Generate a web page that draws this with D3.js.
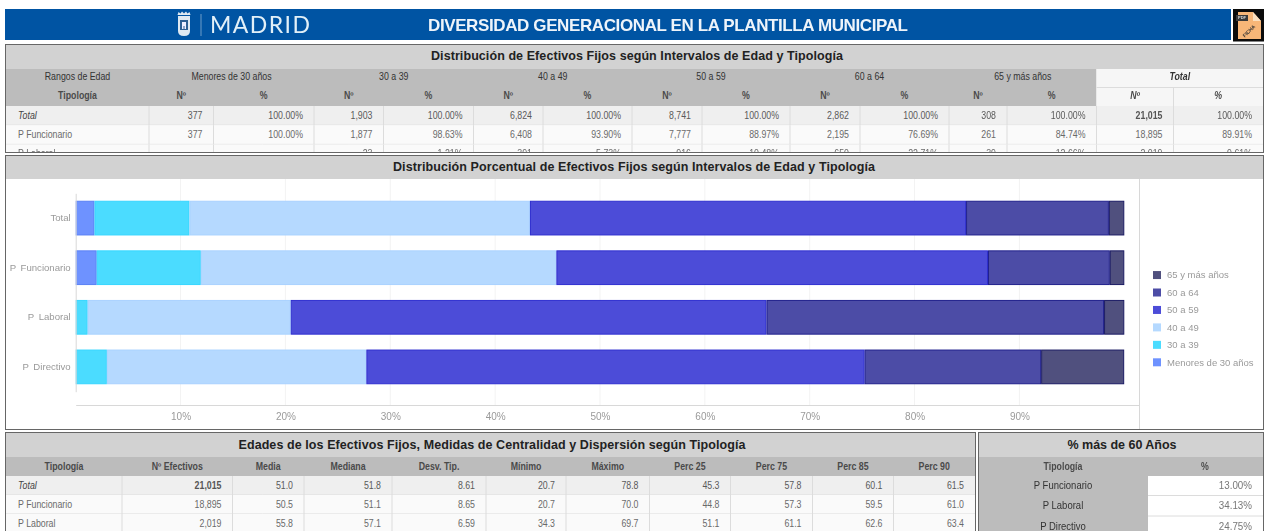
<!DOCTYPE html>
<html>
<head>
<meta charset="utf-8">
<script src="https://d3js.org/d3.v7.min.js"></script>
<style>
  html, body { margin: 0; padding: 0; background: #fff; overflow: hidden; }
  svg { display: block; filter: blur(0.5px); font-family: "Liberation Sans", Arial, sans-serif; }
</style>
</head>
<body>
<svg id="chart" width="1266" height="531"></svg>
<script>
// chart data
const tipologias = ["Total", "P Funcionario", "P Laboral", "P Directivo"];
const seriesNames = ["Menores de 30 años", "30 a 39", "40 a 49", "50 a 59", "60 a 64", "65 y más años"];
const seriesColors = ["#6e92ff", "#4bdcff", "#b5d9ff", "#4c4cd8", "#4c4ca6", "#50507e"];
const seriesStrokes = ["#5a80f5", "#36d6ff", "#a9d2ff", "#2f2fd0", "#20208c", "#1c1c64"];
const pctMenores = [1.79, 2.00, 0, 0];
const pct30 = [9.06, 9.93, 1.14, 2.97];
const pct40 = [32.47, 33.91, 19.37, 24.75];
const pct50 = [41.59, 41.16, 45.37, 47.52];
const pct60 = [13.62, 11.62, 32.19, 16.83];
const pct65 = [1.47, 1.38, 1.93, 7.92];
const xTicks = [10, 20, 30, 40, 50, 60, 70, 80, 90];

// top table
const rangosHeader = ["Rangos de Edad", "Menores de 30 años", "30 a 39", "40 a 49", "50 a 59", "60 a 64", "65 y más años", "Total"];
const dist1Total = ["Total", "377", "100.00%", "1,903", "100.00%", "6,824", "100.00%", "8,741", "100.00%", "2,862", "100.00%", "308", "100.00%", "21,015", "100.00%"];
const dist1Func = ["P Funcionario", "377", "100.00%", "1,877", "98.63%", "6,408", "93.90%", "7,777", "88.97%", "2,195", "76.69%", "261", "84.74%", "18,895", "89.91%"];
const dist1Lab = ["P Laboral", "", "", "23", "1.21%", "391", "5.73%", "916", "10.48%", "650", "22.71%", "39", "12.66%", "2,019", "9.61%"];

// age stats table
const statsHeader = ["Tipología", "Nº Efectivos", "Media", "Mediana", "Desv. Tip.", "Mínimo", "Máximo", "Perc 25", "Perc 75", "Perc 85", "Perc 90"];
const statsTotal = ["Total", "21,015", "51.0", "51.8", "8.61", "20.7", "78.8", "45.3", "57.8", "60.1", "61.5"];
const statsFunc = ["P Funcionario", "18,895", "50.5", "51.1", "8.65", "20.7", "70.0", "44.8", "57.3", "59.5", "61.0"];
const statsLab = ["P Laboral", "2,019", "55.8", "57.1", "6.59", "34.3", "69.7", "51.1", "61.1", "62.6", "63.4"];

// % over 60
const mas60Labels = ["P Funcionario", "P Laboral", "P Directivo"];
const mas60Values = ["13.00%", "34.13%", "24.75%"];

const svg = d3.select("#chart");

const HEAD = "#bcbcbc", BAND = "#d2d2d2", TXT = "#6a6a6a", HTXT = "#4a4a4a", LINE = "#dcdcdc";

// narrow text, the original screenshot is squeezed horizontally
function label(g, x, y, str, opts = {}) {
    const sx = opts.sx ?? 0.88;
    return g.append("text")
        .attr("transform", `translate(${x},${y}) scale(${sx},1)`)
        .attr("dy", "0.35em")
        .attr("text-anchor", opts.anchor || "start")
        .attr("font-size", opts.size || 10)
        .attr("font-weight", opts.weight || "normal")
        .attr("font-style", opts.italic ? "italic" : "normal")
        .attr("fill", opts.fill || TXT)
        .text(str);
}

function panel(x0, y0, x1, y1, titleY1, title, titleX, titleLen, titleY) {
    const id = "clip" + x0 + y0;
    svg.append("clipPath").attr("id", id).append("rect")
        .attr("x", x0).attr("y", y0).attr("width", x1 - x0).attr("height", y1 - y0);
    svg.append("rect").attr("x", x0 - 0.5).attr("y", y0 - 0.5)
        .attr("width", x1 - x0 + 1).attr("height", y1 - y0 + 1)
        .attr("fill", "#fff").attr("stroke", "#666");
    const g = svg.append("g").attr("clip-path", `url(#${id})`);
    g.append("rect").attr("x", x0).attr("y", y0).attr("width", x1 - x0).attr("height", titleY1 - y0).attr("fill", BAND);
    g.append("text")
        .attr("x", titleX).attr("y", titleY)
        .attr("dy", "0.35em").attr("text-anchor", "middle")
        .attr("font-size", 12.5).attr("font-weight", "bold").attr("fill", "#222")
        .attr("textLength", titleLen).attr("lengthAdjust", "spacing")
        .text(title);
    return g;
}

function rows(g, edges, yTop, rowH, data, totalFirst) {
    data.forEach((row, i) => {
        const y = yTop + i * rowH;
        const yc = y + rowH / 2 - 0.5;
        const isTotal = totalFirst && i === 0;
        g.append("rect").attr("x", edges[0]).attr("y", y)
            .attr("width", edges[edges.length - 1] - edges[0]).attr("height", rowH)
            .attr("fill", isTotal ? "#efefef" : "#fafafa");
        g.append("line").attr("x1", edges[0]).attr("x2", edges[edges.length - 1])
            .attr("y1", y + rowH).attr("y2", y + rowH).attr("stroke", LINE);
        row.forEach((v, c) => {
            if (c > 0) g.append("line").attr("x1", edges[c]).attr("x2", edges[c])
                .attr("y1", y).attr("y2", y + rowH).attr("stroke", LINE);
            if (c === 0) label(g, edges[0] + 12, yc, v, { italic: isTotal, fill: isTotal ? "#444" : TXT });
            else label(g, edges[c + 1] - 11, yc, v, { anchor: "end", fill: isTotal ? "#5a5a5a" : TXT });
        });
    });
}

// ------------------------------------------------------------
// banner
// ------------------------------------------------------------
svg.append("rect").attr("x", 5).attr("y", 9).attr("width", 1226).attr("height", 31).attr("fill", "#0054a3");
svg.append("text").attr("x", 668).attr("y", 25).attr("dy", "0.35em").attr("text-anchor", "middle")
    .attr("font-size", 17).attr("font-weight", "bold").attr("fill", "#eef4fa")
    .attr("textLength", 480).attr("lengthAdjust", "spacing")
    .text("DIVERSIDAD GENERACIONAL EN LA PLANTILLA MUNICIPAL");
svg.append("text").attr("x", 210).attr("y", 25).attr("dy", "0.36em")
    .attr("font-family", "Lato, 'Open Sans', sans-serif").attr("font-weight", 400)
    .attr("font-size", 23).attr("fill", "#e2f0f8")
    .attr("textLength", 100).attr("lengthAdjust", "spacing")
    .text("MADRID");
svg.append("line").attr("x1", 201).attr("x2", 201).attr("y1", 14).attr("y2", 36).attr("stroke", "#6c9cc8");
// coat of arms
svg.append("path").attr("d", "M178,16 h12 v15 q0,5 -6,5 q-6,0 -6,-5 z").attr("fill", "#dfe9f2");
svg.append("path").attr("d", "M177.5,15 l1,-3 l2,1.5 l1.5,-2 l2,2 l2,-2 l1.5,2 l2,-1.5 l1,3 z").attr("fill", "#dfe9f2");
svg.append("path").attr("d", "M180,20 h8 v10 h-8 z").attr("fill", "#2e5f93");
svg.append("path").attr("d", "M182,22 h4 v7 h-1.5 v-3 h-1 v3 h-1.5 z").attr("fill", "#eef");

// pdf icon
svg.append("rect").attr("x", 1233).attr("y", 9).attr("width", 31).attr("height", 32.5).attr("fill", "#0b0b0b");
svg.append("path").attr("d", "M1238,12 h15 l8,9 v18 h-23 z").attr("fill", "#f7b678");
svg.append("path").attr("d", "M1253,12 v9 h8 z").attr("fill", "#fbe0c0");
svg.append("rect").attr("x", 1236).attr("y", 15).attr("width", 12).attr("height", 6).attr("fill", "#3a3a3a");
svg.append("text").attr("x", 1242).attr("y", 18).attr("dy", "0.35em").attr("text-anchor", "middle")
    .attr("font-size", 4).attr("fill", "#ddd").attr("font-weight", "bold").text("PDF");
svg.append("text").attr("transform", "translate(1249,31) rotate(-45)").attr("text-anchor", "middle")
    .attr("dy", "0.35em").attr("font-size", 5).attr("font-weight", "bold").attr("fill", "#333").text("FICHA");

// ------------------------------------------------------------
// top table
// ------------------------------------------------------------
const distEdges = [6, 149, 213.5, 314, 383.5, 473.5, 543, 632, 702, 790, 860, 949, 1007, 1096.5, 1173.5, 1263];
const distG = panel(6, 45, 1263, 152, 69, "Distribución de Efectivos Fijos según Intervalos de Edad y Tipología", 637, 412, 56);

distG.append("rect").attr("x", 6).attr("y", 69).attr("width", 1090.5).attr("height", 37).attr("fill", HEAD);
distG.append("rect").attr("x", 1096.5).attr("y", 69).attr("width", 167).attr("height", 37).attr("fill", "#f6f6f6");
distG.append("line").attr("x1", 1096.5).attr("x2", 1263).attr("y1", 87.5).attr("y2", 87.5).attr("stroke", LINE);
distG.append("line").attr("x1", 1173.5).attr("x2", 1173.5).attr("y1", 87.5).attr("y2", 106).attr("stroke", LINE);

rangosHeader.forEach((h, i) => {
    const x0 = i === 0 ? distEdges[0] : distEdges[2 * i - 1];
    const x1 = i === 0 ? distEdges[1] : distEdges[2 * i + 1];
    label(distG, (x0 + x1) / 2, 76.5, h, { anchor: "middle", fill: "#333", italic: i === 7, weight: i === 7 ? "bold" : "normal" });
    if (i === 0) {
        label(distG, (x0 + x1) / 2, 95.5, "Tipología", { anchor: "middle", fill: HTXT, weight: "bold" });
    } else {
        const xm = distEdges[2 * i];
        label(distG, (x0 + xm) / 2, 95.5, "Nº", { anchor: "middle", fill: HTXT, italic: i === 7, weight: "bold" });
        label(distG, (xm + x1) / 2, 95.5, "%", { anchor: "middle", fill: HTXT, italic: i === 7, weight: "bold" });
    }
});
rows(distG, distEdges, 106, 19.2, [dist1Total, dist1Func, dist1Lab], true);
distG.selectAll("text").filter(function () { return d3.select(this).text() === "21,015"; })
    .attr("font-weight", "bold").attr("fill", "#555");

// ------------------------------------------------------------
// stacked bars
// ------------------------------------------------------------
const barG = panel(6, 156, 1263, 429, 179, "Distribución Porcentual de Efectivos Fijos según Intervalos de Edad y Tipología", 634, 482, 167);

const table = tipologias.map((t, i) => ({
    tipologia: t,
    [seriesNames[0]]: pctMenores[i],
    [seriesNames[1]]: pct30[i],
    [seriesNames[2]]: pct40[i],
    [seriesNames[3]]: pct50[i],
    [seriesNames[4]]: pct60[i],
    [seriesNames[5]]: pct65[i]
}));
const stacked = d3.stack().keys(seriesNames)(table);

const x = d3.scaleLinear().domain([0, 101.45]).range([75.7, 1139.5]);
const y = d3.scaleBand().domain(tipologias).range([193.3, 391.7]).paddingInner(0.3).paddingOuter(0.15);
const plotTop = 179, plotBottom = 405;

barG.append("g").selectAll("line").data(xTicks).join("line")
    .attr("x1", d => x(d)).attr("x2", d => x(d))
    .attr("y1", plotTop).attr("y2", plotBottom)
    .attr("stroke", "#f3f3f3");

barG.append("g").selectAll("g").data(stacked).join("g")
    .attr("fill", (d, i) => seriesColors[i])
    .attr("stroke", (d, i) => seriesStrokes[i])
    .selectAll("rect").data(d => d.filter(s => s[1] > s[0])).join("rect")
    .attr("x", d => x(d[0]) + 0.5)
    .attr("y", d => y(d.data.tipologia) + 0.5)
    .attr("width", d => x(d[1]) - x(d[0]) - 1)
    .attr("height", y.bandwidth() - 1);

const xAxis = d3.axisBottom(x).tickValues(xTicks).tickFormat(d => d + "%").tickSize(0).tickPadding(8);
const xG = barG.append("g").attr("transform", `translate(0,${plotBottom})`).call(xAxis);
xG.select(".domain").attr("stroke", "#d8d8d8");
xG.selectAll("text").attr("font-size", 10).attr("font-family", "'Liberation Sans', Arial, sans-serif").attr("fill", "#9a9a9a");

const yAxis = d3.axisLeft(y).tickSize(0).tickPadding(5);
const yG = barG.append("g").attr("transform", `translate(${x(0)},0)`).call(yAxis);
yG.select(".domain").attr("stroke", "#d8d8d8");
yG.selectAll("text").attr("font-size", 9.6).attr("font-family", "'Liberation Sans', Arial, sans-serif")
    .attr("fill", "#9a9a9a").attr("word-spacing", 2);

barG.append("line").attr("x1", 1139.5).attr("x2", 1139.5).attr("y1", plotTop).attr("y2", 429).attr("stroke", "#d8d8d8");

// legend goes bottom up, same as the stack order
const legend = barG.append("g").selectAll("g").data(seriesNames).join("g")
    .attr("transform", (d, i) => `translate(1153,${362.3 - i * 17.45})`);
legend.append("rect").attr("y", -4).attr("width", 8).attr("height", 8)
    .attr("fill", (d, i) => seriesColors[i]);
legend.append("text").attr("x", 14).attr("dy", "0.35em").attr("font-size", 9.5)
    .attr("fill", "#9a9a9a").text(d => d);

// ------------------------------------------------------------
// age stats table
// ------------------------------------------------------------
const statsEdges = [6, 122, 232.5, 304, 392, 486, 566, 649.5, 730.5, 812.5, 893.5, 975];
const statsG = panel(6, 433, 975, 540, 457, "Edades de los Efectivos Fijos, Medidas de Centralidad y Dispersión según Tipología", 492, 507, 445);
statsG.append("rect").attr("x", 6).attr("y", 457).attr("width", 969).attr("height", 19).attr("fill", HEAD);
statsHeader.forEach((h, i) => {
    label(statsG, (statsEdges[i] + statsEdges[i + 1]) / 2, 466, h, { anchor: "middle", fill: HTXT, weight: "bold" });
});
rows(statsG, statsEdges, 476, 19, [statsTotal, statsFunc, statsLab], true);
statsG.selectAll("text").filter(function () { return d3.select(this).text() === "21,015"; })
    .attr("font-weight", "bold").attr("fill", "#555");

// ------------------------------------------------------------
// % over 60
// ------------------------------------------------------------
const masG = panel(979, 433, 1263, 540, 457, "% más de 60 Años", 1122, 109, 445);
masG.append("rect").attr("x", 979).attr("y", 457).attr("width", 284).attr("height", 19).attr("fill", HEAD);
masG.append("rect").attr("x", 979).attr("y", 476).attr("width", 169).attr("height", 64).attr("fill", HEAD);
label(masG, 1063, 466, "Tipología", { anchor: "middle", fill: HTXT, weight: "bold" });
label(masG, 1205, 466, "%", { anchor: "middle", fill: HTXT, weight: "bold" });
mas60Labels.forEach((t, i) => {
    const yc = 485 + i * 20.5;
    label(masG, 1063, yc, t, { anchor: "middle", fill: "#333", sx: 0.95 });
    label(masG, 1252, yc, mas60Values[i], { anchor: "end", fill: "#777", sx: 0.98 });
    masG.append("line").attr("x1", 1148).attr("x2", 1263).attr("y1", yc + 10.5).attr("y2", yc + 10.5).attr("stroke", LINE);
});
</script>
</body>
</html>
